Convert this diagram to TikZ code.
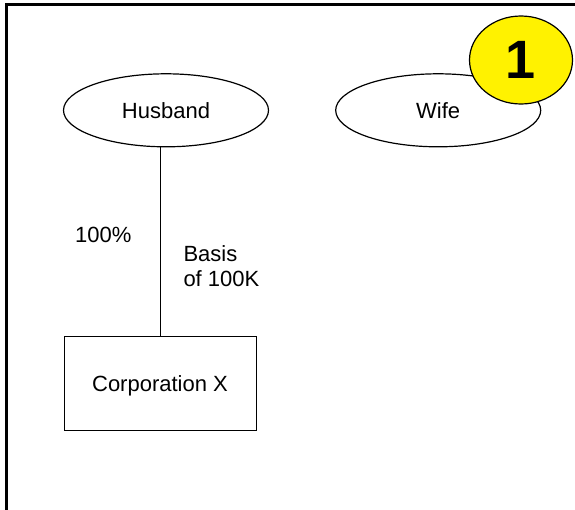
\documentclass[tikz,border=0pt]{standalone}
\usepackage{fontspec}
\setmainfont{Liberation Sans}
\usetikzlibrary{shapes.geometric, positioning}

\begin{document}
\begin{tikzpicture}[
        x=1pt, y=-1pt,
        node distance=66pt and 66pt,
        every node/.style={font=\fontsize{22}{24.3}\selectfont},
        person/.style={draw, ellipse, line width=1.2pt, minimum width=205pt, minimum height=73pt, inner sep=0pt},
        company/.style={draw, rectangle, line width=1pt, minimum width=192pt, minimum height=94pt, text depth=0pt},
        badge/.style={draw, ellipse, fill=yellow, line width=1.2pt, minimum width=103pt, minimum height=88pt, inner sep=0pt, font=\fontsize{54}{54}\selectfont\bfseries}
    ]
    \useasboundingbox (0,0) rectangle (575,509);

    % Frame
    \draw[line width=3pt] (6.5,512) |- (578,4.7);

    % Nodes
    \node[person] (H) at (166,110.3) {Husband};
    \node[person, right=of H] (W) {Wife};
    \node[badge] (B) at (521,60) {1};
    \node[company] (X) at (160,383.5) {Corporation X};

    % Lines
    \draw[line width=1pt] (X.north) -- (X.north |- H.south)
        node[midway, anchor=base east, xshift=-28pt, yshift=-0.5pt, inner sep=0pt] (pct) {100\%}
        node[midway, anchor=north west, xshift=23pt, yshift=-3.7pt, inner sep=0pt, align=left] (basis) {Basis\\of 100K};

\end{tikzpicture}
\end{document}
